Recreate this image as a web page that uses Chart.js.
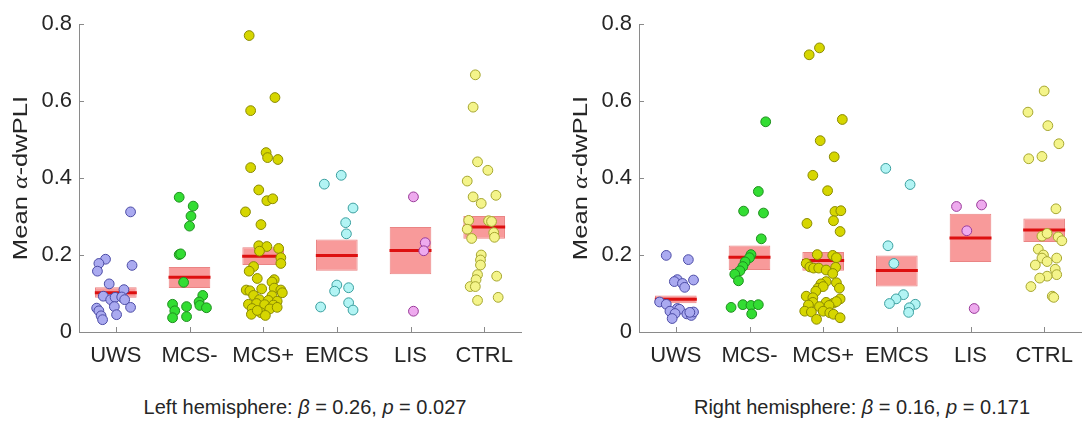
<!DOCTYPE html>
<html>
<head>
<meta charset="utf-8">
<script src="https://cdn.jsdelivr.net/npm/chart.js@4.4.1/dist/chart.umd.min.js"></script>
<style>
    html, body { margin: 0; padding: 0; background: #fff; overflow: hidden; width: 1082px; height: 423px; }
    .panel { position: absolute; top: 0; width: 545px; height: 370px; }
    #leftWrap { left: 0; }
    #rightWrap { left: 560px; }
    .caption {
        position: absolute; top: 397px; transform: translateX(-50%);
        font: 20px 'Liberation Sans', Arial, sans-serif; line-height: 20px;
        color: #262626; white-space: nowrap;
    }
</style>
</head>
<body>
<div class="panel" id="leftWrap"><canvas id="leftChart" width="545" height="370"></canvas></div>
<div class="panel" id="rightWrap"><canvas id="rightChart" width="545" height="370"></canvas></div>
<div class="caption" style="left:305px">Left hemisphere: <i>β</i> = 0.26, <i>p</i> = 0.027</div>
<div class="caption" style="left:862px">Right hemisphere: <i>β</i> = 0.16, <i>p</i> = 0.171</div>

<script>
const categories = ['UWS', 'MCS-', 'MCS+', 'EMCS', 'LIS', 'CTRL'];
const yTicks = [0, 0.2, 0.4, 0.6, 0.8];

// Left hemisphere: per-subject values and horizontal jitter (category units)
const leftUWS = [0.312, 0.189, 0.178, 0.158, 0.173, 0.125, 0.110, 0.093, 0.084, 0.090, 0.091, 0.084, 0.066, 0.064, 0.062, 0.055, 0.045, 0.042, 0.032];
const leftUWSJit = [0.20, -0.14, -0.23, -0.25, 0.22, -0.09, 0.11, -0.17, -0.07, -0.01, 0.08, 0.12, -0.02, 0.20, -0.26, -0.23, 0.01, -0.20, -0.18];
const leftMCSm = [0.350, 0.327, 0.301, 0.275, 0.201, 0.203, 0.129, 0.095, 0.072, 0.078, 0.069, 0.063, 0.066, 0.055, 0.037, 0.040];
const leftMCSmJit = [-0.14, 0.05, 0.02, 0.00, -0.14, -0.12, -0.08, 0.18, -0.23, 0.13, 0.14, 0.23, -0.04, -0.20, -0.23, -0.04];
const leftMCSp = [0.770, 0.609, 0.575, 0.466, 0.453, 0.448, 0.427, 0.369, 0.341, 0.346, 0.312, 0.279, 0.224, 0.222, 0.217, 0.210, 0.193, 0.178, 0.170, 0.158, 0.139, 0.136, 0.130, 0.109, 0.107, 0.112, 0.114, 0.109, 0.102, 0.095, 0.094, 0.084, 0.082, 0.080, 0.072, 0.074, 0.071, 0.070, 0.061, 0.060, 0.064, 0.050, 0.043, 0.046, 0.056];
const leftMCSpJit = [-0.19, 0.16, -0.17, 0.04, 0.06, 0.20, -0.17, -0.06, 0.05, 0.13, -0.24, -0.03, -0.06, 0.05, 0.21, -0.05, 0.24, 0.24, -0.13, -0.19, -0.08, 0.15, 0.12, -0.23, -0.18, -0.02, 0.15, 0.24, 0.26, -0.13, 0.12, -0.05, 0.07, 0.19, -0.20, -0.09, 0.02, 0.14, -0.15, 0.09, 0.19, -0.03, 0.03, -0.16, -0.08];
const leftEMCS = [0.384, 0.407, 0.322, 0.284, 0.255, 0.122, 0.106, 0.115, 0.076, 0.065, 0.057];
const leftEMCSJit = [-0.17, 0.06, 0.22, 0.12, 0.13, 0.00, -0.03, 0.16, 0.16, -0.22, 0.22];
const leftLIS = [0.351, 0.232, 0.211, 0.054];
const leftLISJit = [0.04, 0.20, 0.18, 0.04];
const leftCTRL = [0.668, 0.584, 0.442, 0.420, 0.392, 0.351, 0.334, 0.355, 0.290, 0.289, 0.287, 0.267, 0.258, 0.243, 0.246, 0.200, 0.187, 0.174, 0.149, 0.136, 0.145, 0.118, 0.118, 0.090, 0.082];
const leftCTRLJit = [-0.12, -0.15, -0.09, 0.05, -0.23, -0.15, -0.04, 0.16, -0.21, 0.06, 0.10, -0.23, 0.13, -0.17, 0.14, -0.04, -0.05, -0.05, -0.09, -0.11, 0.17, -0.19, -0.12, 0.19, -0.09];
const leftMean = [0.102, 0.142, 0.197, 0.199, 0.212, 0.273];
const leftLow = [0.089, 0.114, 0.174, 0.159, 0.150, 0.242];
const leftHigh = [0.116, 0.169, 0.220, 0.240, 0.273, 0.301];

// Right hemisphere
const rightUWS = [0.199, 0.188, 0.136, 0.131, 0.135, 0.126, 0.116, 0.078, 0.072, 0.061, 0.054, 0.059, 0.048, 0.035, 0.047, 0.043, 0.052, 0.051];
const rightUWSJit = [-0.13, 0.17, 0.02, -0.02, 0.24, 0.09, 0.12, -0.22, -0.13, 0.02, -0.08, 0.05, -0.01, -0.05, 0.15, 0.21, 0.24, 0.19];
const rightMCSm = [0.546, 0.365, 0.314, 0.309, 0.242, 0.201, 0.193, 0.182, 0.170, 0.159, 0.150, 0.133, 0.064, 0.071, 0.069, 0.071, 0.047];
const rightMCSmJit = [0.22, 0.12, -0.08, 0.19, 0.16, 0.02, 0.00, -0.06, -0.09, -0.13, -0.20, -0.15, -0.25, -0.09, 0.02, 0.12, 0.03];
const rightMCSp = [0.720, 0.738, 0.552, 0.497, 0.455, 0.407, 0.367, 0.313, 0.315, 0.289, 0.282, 0.261, 0.201, 0.199, 0.193, 0.178, 0.169, 0.166, 0.166, 0.161, 0.168, 0.152, 0.131, 0.125, 0.128, 0.114, 0.118, 0.114, 0.106, 0.093, 0.089, 0.086, 0.077, 0.077, 0.075, 0.079, 0.070, 0.066, 0.069, 0.054, 0.052, 0.054, 0.050, 0.046, 0.033, 0.037];
const rightMCSpJit = [-0.19, -0.05, 0.26, -0.04, 0.15, -0.14, 0.06, 0.16, 0.24, 0.14, -0.22, 0.23, -0.08, 0.13, 0.18, -0.23, -0.18, -0.13, -0.06, 0.04, 0.17, 0.13, 0.04, -0.03, 0.18, -0.07, 0.00, 0.22, -0.10, -0.23, -0.14, 0.23, -0.14, 0.04, 0.14, 0.18, -0.20, -0.05, 0.08, -0.25, -0.16, 0.00, 0.09, 0.14, -0.09, 0.23];
const rightEMCS = [0.425, 0.383, 0.224, 0.178, 0.097, 0.086, 0.074, 0.072, 0.063, 0.051];
const rightEMCSJit = [-0.15, 0.18, -0.12, -0.04, 0.09, -0.01, -0.10, 0.25, 0.17, 0.16];
const rightLIS = [0.326, 0.330, 0.263, 0.061];
const rightLISJit = [-0.19, 0.15, -0.05, 0.05];
const rightCTRL = [0.626, 0.571, 0.536, 0.489, 0.450, 0.456, 0.320, 0.249, 0.256, 0.247, 0.237, 0.215, 0.200, 0.192, 0.183, 0.192, 0.174, 0.163, 0.149, 0.145, 0.140, 0.118, 0.093, 0.090];
const rightCTRLJit = [0.00, -0.22, 0.05, 0.20, -0.21, -0.03, 0.16, -0.03, 0.04, 0.19, 0.24, -0.08, -0.01, -0.03, 0.04, 0.17, -0.12, 0.15, 0.17, 0.04, -0.06, -0.18, 0.11, 0.13];
const rightMean = [0.085, 0.194, 0.186, 0.160, 0.244, 0.265];
const rightLow = [0.075, 0.161, 0.159, 0.118, 0.182, 0.234];
const rightHigh = [0.095, 0.225, 0.208, 0.199, 0.307, 0.295];

const fillColors = ['#aaaaf0', '#33dd33', '#d6d600', '#b2f4f4', '#eeaaee', '#f4f48a'];
const edgeColors = ['#4c4ca6', '#1f8f1f', '#8a8a00', '#3a9f9f', '#9a3c9a', '#a6a630'];
const yTitleParts = [['Mean ', 'normal'], ['α', 'italic'], ['-dwPLI', 'normal']];

const FONT = "'Liberation Sans', Arial, sans-serif";
const TEXT = '#262626';
const AXIS = '#8a8a8a';

// MATLAB-style ticks pointing into the axes
const innerTicks = {
    id: 'innerTicks',
    afterDraw(chart) {
        const { ctx, chartArea, scales: { x, y } } = chart;
        ctx.save();
        ctx.strokeStyle = AXIS;
        ctx.lineWidth = 1;
        ctx.beginPath();
        x.ticks.forEach(t => {
            const px = Math.round(x.getPixelForValue(t.value)) + 0.5;
            ctx.moveTo(px, chartArea.bottom);
            ctx.lineTo(px, chartArea.bottom - 5);
        });
        y.ticks.forEach(t => {
            const py = Math.round(y.getPixelForValue(t.value)) + 0.5;
            ctx.moveTo(chartArea.left, py);
            ctx.lineTo(chartArea.left + 5, py);
        });
        ctx.stroke();
        ctx.restore();
    }
};

// Rotated y title with an italic alpha (the source font runs wide, so stretch it a bit)
const yTitle = {
    id: 'yTitle',
    afterDraw(chart) {
        const { ctx, chartArea } = chart;
        ctx.save();
        ctx.translate(21, (chartArea.top + chartArea.bottom) / 2);
        ctx.rotate(-Math.PI / 2);
        ctx.scale(1.22, 1);
        ctx.fillStyle = TEXT;
        ctx.textBaseline = 'middle';
        const fontFor = style => style === 'italic' ? "italic 21px 'Liberation Serif', serif" : '21px ' + FONT;
        let total = 0;
        yTitleParts.forEach(([txt, style]) => { ctx.font = fontFor(style); total += ctx.measureText(txt).width; });
        let pos = -total / 2;
        yTitleParts.forEach(([txt, style]) => {
            ctx.font = fontFor(style);
            ctx.fillText(txt, pos, 0);
            pos += ctx.measureText(txt).width;
        });
        ctx.restore();
    }
};

function buildPanel(canvasId, groups, jitters, mean, low, high) {
    const datasets = [];

    groups.forEach((vals, g) => {
        datasets.push({
            type: 'scatter',
            label: categories[g],
            data: vals.map((v, i) => ({ x: g + 1 + jitters[g][i], y: v })),
            pointRadius: 4.9,
            pointBorderWidth: 1,
            backgroundColor: fillColors[g],
            borderColor: edgeColors[g],
            order: 0
        });
    });

    // mean line
    datasets.push({
        type: 'scatter',
        label: 'mean',
        data: mean.map((m, i) => ({ x: i + 1, y: m })),
        pointStyle: 'line',
        pointRadius: 21,
        borderWidth: 3,
        borderColor: '#dd1010',
        order: 1
    });

    // SEM boxes as floating bars
    datasets.push({
        type: 'bar',
        label: 'sem',
        data: low.map((l, i) => ({ x: i + 1, y: [l, high[i]] })),
        backgroundColor: '#f89a9a',
        borderColor: '#ea8484',
        borderWidth: 1,
        borderSkipped: false,
        barPercentage: 0.565,
        categoryPercentage: 1,
        order: 2
    });

    return new Chart(document.getElementById(canvasId), {
        type: 'scatter',
        data: { datasets },
        plugins: [innerTicks, yTitle],
        options: {
            responsive: false,
            animation: false,
            layout: { padding: { top: 19, right: 20, left: 0, bottom: 0 } },
            plugins: { legend: { display: false }, tooltip: { enabled: false } },
            scales: {
                x: {
                    type: 'linear',
                    min: 0.5,
                    max: 6.5,
                    offset: false,
                    afterFit: s => { s.height = 38; },
                    afterBuildTicks: s => { s.ticks = categories.map((_, i) => ({ value: i + 1 })); },
                    grid: { display: false, drawTicks: false },
                    border: { display: true, color: AXIS, width: 1 },
                    ticks: {
                        callback: v => categories[Math.round(v) - 1],
                        font: { family: FONT, size: 22 },
                        color: TEXT,
                        padding: 11,
                        maxRotation: 0,
                        autoSkip: false
                    }
                },
                y: {
                    min: 0,
                    max: 0.8,
                    afterFit: s => { s.width = 79; },
                    afterBuildTicks: s => { s.ticks = yTicks.map(v => ({ value: v })); },
                    grid: { display: false, drawTicks: false },
                    border: { display: true, color: AXIS, width: 1 },
                    ticks: {
                        callback: v => String(Math.round(v * 10) / 10),
                        font: { family: FONT, size: 22 },
                        color: TEXT,
                        padding: 7
                    }
                }
            }
        }
    });
}

buildPanel('leftChart',
    [leftUWS, leftMCSm, leftMCSp, leftEMCS, leftLIS, leftCTRL],
    [leftUWSJit, leftMCSmJit, leftMCSpJit, leftEMCSJit, leftLISJit, leftCTRLJit],
    leftMean, leftLow, leftHigh);

buildPanel('rightChart',
    [rightUWS, rightMCSm, rightMCSp, rightEMCS, rightLIS, rightCTRL],
    [rightUWSJit, rightMCSmJit, rightMCSpJit, rightEMCSJit, rightLISJit, rightCTRLJit],
    rightMean, rightLow, rightHigh);
</script>
</body>
</html>
